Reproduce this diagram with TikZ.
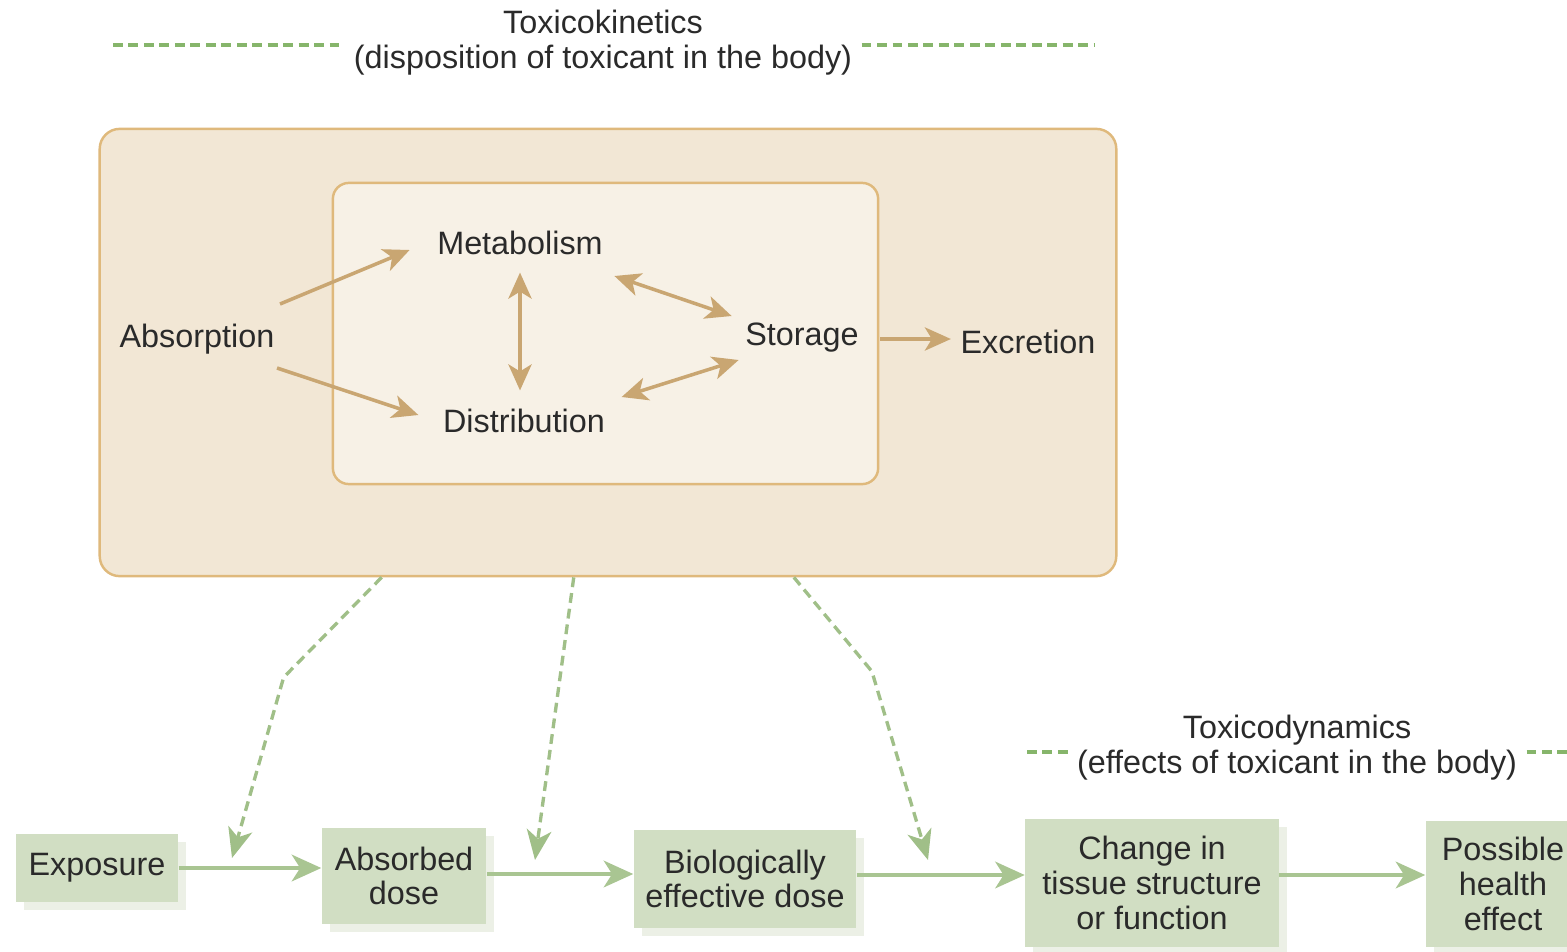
\documentclass[tikz,border=0pt]{standalone}
\usepackage{fontspec}
\setmainfont{Liberation Sans}
\usetikzlibrary{arrows.meta,shadows}
\definecolor{tanline}{HTML}{DFB97C}
\definecolor{tanarrow}{HTML}{C9A672}
\definecolor{outerfill}{HTML}{F2E7D5}
\definecolor{innerfill}{HTML}{F7F1E6}
\definecolor{boxgreen}{HTML}{D1DEC3}
\definecolor{shadegreen}{HTML}{ECF0E6}
\definecolor{arrowgreen}{HTML}{A9C592}
\definecolor{dashgreen}{HTML}{A0BF88}
\definecolor{titledash}{HTML}{86B56B}
\definecolor{inkgray}{HTML}{2A2A2A}

\begin{document}
\begin{tikzpicture}[x=0.01cm,y=-0.01cm,
  font=\fontsize{9.2}{9.9}\selectfont, text=inkgray,
  lbl/.style={inner sep=0pt},
  tanarr/.style={draw=tanarrow,line width=1pt,-{Stealth[length=7.4pt,width=6.6pt,inset=2pt]}},
  tanboth/.style={tanarr,{Stealth[length=7.4pt,width=6.6pt,inset=2pt]}-{Stealth[length=7.4pt,width=6.6pt,inset=2pt]}},
  gbox/.style={fill=boxgreen,align=center,inner sep=2pt,
    drop shadow={shadow xshift=0.08cm,shadow yshift=-0.08cm,fill=shadegreen,opacity=1}},
  garr/.style={draw=arrowgreen,line width=0.95pt,-{Stealth[length=8.4pt,width=7.6pt,inset=2.4pt]}},
  gdash/.style={draw=dashgreen,line width=0.95pt,dash pattern=on 2.8pt off 1.7pt,
    -{Stealth[length=8.5pt,width=7pt,inset=2.4pt]}},
  titledsh/.style={draw=titledash,line width=1.1pt,dash pattern=on 2.8pt off 1.6pt},
  title/.style={align=center,inner sep=2.5pt}]
\clip (0,0) rectangle (1567,951);

\node[title] (kintitle) at (603,43) {Toxicokinetics\\(disposition of toxicant in the body)};
\coordinate (kinL) at (113,45);
\coordinate (kinR) at (1095,45);
\draw[titledsh] (kinL) -- (kinL -| kintitle.west);
\draw[titledsh] (kinR -| kintitle.east) -- (kinR);

\node[draw=tanline,fill=outerfill,line width=0.7pt,rounded corners=0.2cm,
  minimum width=10.16cm,minimum height=4.47cm] (kinbox) at (608,352.5) {};
\node[draw=tanline,fill=innerfill,line width=0.7pt,rounded corners=0.16cm,
  minimum width=5.45cm,minimum height=3.01cm] (innerbox) at (605.5,333.5) {};

\node[lbl] (absorp) at (197,339) {Absorption};
\node[lbl] (metab) at (520,243) {Metabolism};
\node[lbl] (distrib) at (524,421) {Distribution};
\node[lbl] (storage) at (802,338) {Storage};
\node[lbl] (excret) at (1028,342) {Excretion};

\draw[tanarr] ([shift={(5,-35)}]absorp.east) -- ([shift={(-27,7)}]metab.west);
\draw[tanarr] ([shift={(2,29)}]absorp.east) -- ([shift={(-24,-6)}]distrib.west);
\draw[tanboth,shorten <=0.17cm,shorten >=0.18cm] (metab.south) -- (metab.south |- distrib.north);
\draw[tanboth] ([shift={(11,33)}]metab.east) -- ([shift={(-13,-22)}]storage.west);
\draw[tanboth] ([shift={(16,-24)}]distrib.east) -- ([shift={(-6,22)}]storage.west);
\draw[tanarr] ([shift={(21,1)}]storage.east) -- ([shift={(-9,-3)}]excret.west);

\node[title] (dyntitle) at (1297,748) {Toxicodynamics\\(effects of toxicant in the body)};
\coordinate (dynL) at (1027,752);
\coordinate (dynR) at (1567,752);
\draw[titledsh] (dynL) -- (dynL -| dyntitle.west);
\draw[titledsh] (dynR -| dyntitle.east) -- (dynR);

\node[gbox,minimum width=1.62cm,minimum height=0.68cm] (expo) at (97,868) {Exposure};
\node[gbox,minimum width=1.64cm,minimum height=0.96cm] (absorb) at (404,876) {Absorbed\\dose};
\node[gbox,minimum width=2.22cm,minimum height=0.97cm] (bioeff) at (745,879) {Biologically\\effective dose};
\node[gbox,minimum width=2.53cm,minimum height=1.27cm] (change) at (1152,883) {Change in\\tissue structure\\or function};
\node[gbox,minimum width=1.54cm,minimum height=1.25cm] (health) at (1503,884) {Possible\\health\\effect};

\draw[garr] (expo.east) -- (expo.east -| absorb.west);
\draw[garr] ([yshift=0.02cm]absorb.east) -- ([yshift=0.02cm]absorb.east -| bioeff.west);
\draw[garr] ([yshift=0.04cm]bioeff.east) -- ([yshift=0.04cm]bioeff.east -| change.west);
\draw[garr] ([yshift=0.08cm]change.east) -- ([yshift=0.08cm]change.east -| health.west);

\coordinate (tipA) at (232,858);
\coordinate (tipB) at (535,860);
\coordinate (tipC) at (928,860);
\draw[gdash] ([xshift=2.83cm]kinbox.south west) -- ++(-98,100) -- (tipA);
\draw[gdash] ([xshift=4.75cm]kinbox.south west) -- (tipB);
\draw[gdash] ([xshift=6.95cm]kinbox.south west) -- ++(78,94) -- (tipC);
\end{tikzpicture}
\end{document}
